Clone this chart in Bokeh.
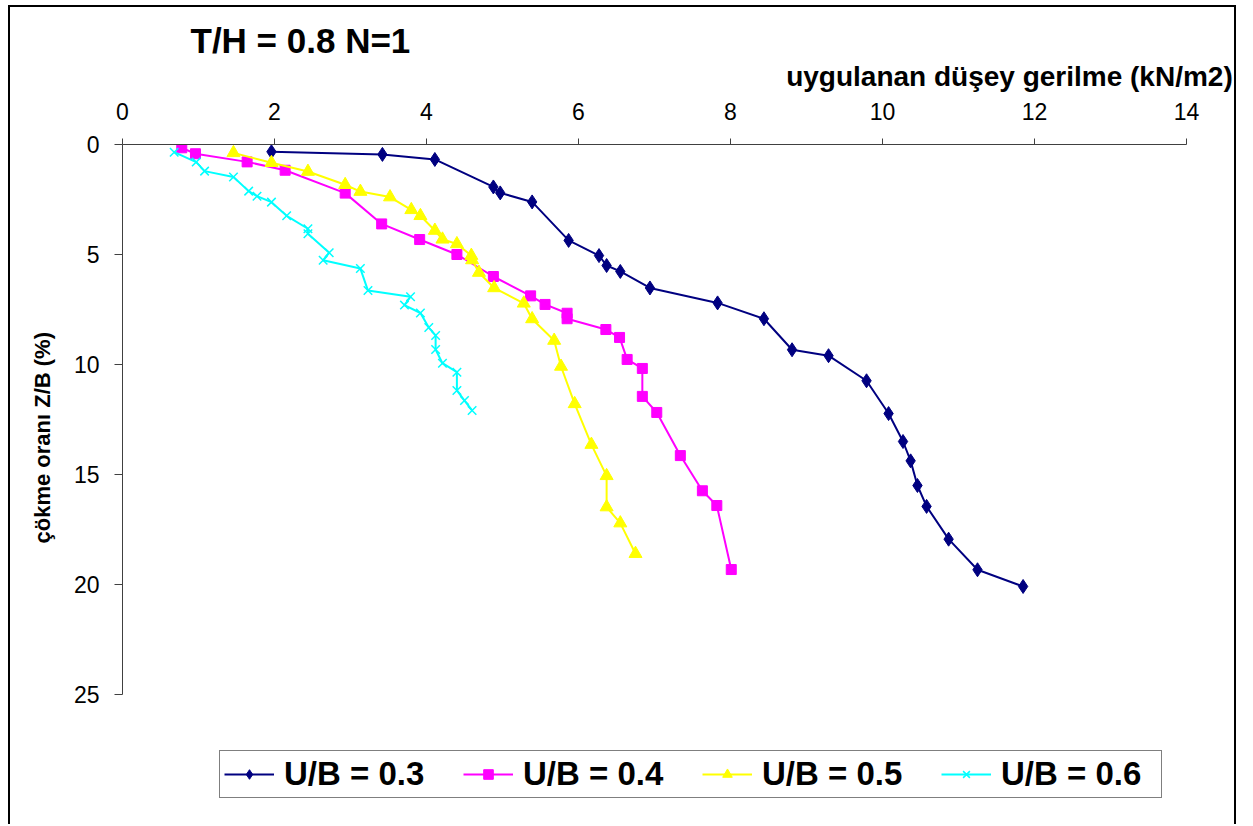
from bokeh.plotting import figure
from bokeh.models import Legend, LegendItem, Range1d, FixedTicker, Title
from bokeh.embed import file_html
from bokeh.resources import INLINE

series_labels = ["U/B = 0.3", "U/B = 0.4", "U/B = 0.5", "U/B = 0.6"]

stress_03 = [1.96, 3.42, 4.11, 4.88, 4.97, 5.39, 5.87, 6.27, 6.37, 6.55, 6.94, 7.83,
             8.44, 8.81, 9.29, 9.79, 10.08, 10.27, 10.37, 10.46, 10.58, 10.87, 11.25, 11.85]
settle_03 = [0.33, 0.45, 0.68, 1.93, 2.20, 2.61, 4.36, 5.05, 5.50, 5.77, 6.52, 7.20,
             7.92, 9.33, 9.60, 10.74, 12.23, 13.50, 14.38, 15.50, 16.45, 17.94, 19.33, 20.09]

stress_04 = [0.78, 0.96, 1.64, 2.14, 2.93, 3.41, 3.91, 4.40, 4.88, 5.37, 5.56, 5.85,
             5.85, 6.36, 6.54, 6.64, 6.84, 6.84, 7.03, 7.34, 7.63, 7.82, 8.01]
settle_04 = [0.15, 0.42, 0.79, 1.17, 2.21, 3.61, 4.32, 5.00, 6.00, 6.88, 7.27, 7.67,
             7.92, 8.41, 8.77, 9.77, 10.18, 11.45, 12.18, 14.14, 15.74, 16.41, 19.32]

stress_05 = [1.46, 1.96, 2.44, 2.93, 3.13, 3.52, 3.80, 3.92, 4.11, 4.21, 4.40, 4.59,
             4.60, 4.69, 4.89, 5.28, 5.39, 5.68, 5.77, 5.95, 6.17, 6.37, 6.37, 6.55, 6.75]
settle_05 = [0.38, 0.83, 1.23, 1.83, 2.14, 2.39, 2.97, 3.24, 3.91, 4.31, 4.52, 5.05,
             5.25, 5.82, 6.52, 7.22, 7.93, 8.91, 10.09, 11.79, 13.64, 15.06, 16.48, 17.21, 18.60]

stress_06 = [0.68, 0.97, 1.08, 1.46, 1.66, 1.77, 1.96, 2.16, 2.44, 2.44, 2.72, 2.64,
             3.13, 3.23, 3.79, 3.71, 3.92, 4.03, 4.12, 4.12, 4.21, 4.40, 4.40, 4.50, 4.60]
settle_06 = [0.35, 0.80, 1.21, 1.48, 2.12, 2.35, 2.62, 3.24, 3.83, 4.06, 4.92, 5.26,
             5.64, 6.64, 6.92, 7.30, 7.66, 8.32, 8.68, 9.32, 9.94, 10.35, 11.18, 11.64, 12.09]

x_ticks = [0, 2, 4, 6, 8, 10, 12, 14]
y_ticks = [0, 5, 10, 15, 20, 25]

title_text = "T/H = 0.8  N=1"
x_title = "uygulanan düşey gerilme  (kN/m2)"
y_title = "çökme oranı Z/B (%)"

FONT = "Liberation Sans"

# host element placed at page (8, 5) with a 2px border on left/top/right.
# The frame runs from page y=144 down to the bottom of the page; the settlement
# axis is bounded to 0..25 so the space below it can hold the legend.
p = figure(width=1228, height=819, output_backend="svg", toolbar_location=None,
           x_range=Range1d(0, 14), y_range=Range1d(31, 0), x_axis_location="above",
           min_border_left=112, min_border_right=52, min_border_top=137,
           min_border_bottom=0)
p.styles = {"margin-left": "8px", "margin-top": "5px",
            "border-left": "2px solid black", "border-top": "2px solid black",
            "border-right": "2px solid black"}
p.grid.visible = False
p.outline_line_color = None
p.background_fill_color = "white"
p.border_fill_color = "white"

for ax, ticks, out in ((p.xaxis[0], x_ticks, 6), (p.yaxis[0], y_ticks, 8)):
    ax.ticker = FixedTicker(ticks=ticks)
    ax.major_tick_out = out
    ax.major_tick_in = 0
    ax.minor_tick_line_color = None
    ax.axis_line_color = "#404040"
    ax.major_tick_line_color = "#404040"
    ax.major_label_text_font = FONT
    ax.major_label_text_font_size = "23px"
    ax.major_label_text_color = "black"
p.xaxis.major_label_standoff = 19
p.yaxis.major_label_standoff = 15
p.yaxis.bounds = (0, 25)

series = [
    (stress_03, settle_03, "#000080", "diamond", 14),
    (stress_04, settle_04, "#FF00FF", "square", 10),
    (stress_05, settle_05, "#FFFF00", "triangle", 13),
    (stress_06, settle_06, "#00FFFF", "x", 12),
]

items = []
for (xs, ys, col, mk, sz), lab in zip(series, series_labels):
    lr = p.line(xs, ys, line_color=col, line_width=2)
    sr = p.scatter(xs, ys, marker=mk, size=sz, fill_color=col, line_color=col,
                   line_width=1.5 if mk == "x" else 1)
    items.append(LegendItem(label=lab, renderers=[lr, sr]))

legend = Legend(items=items, orientation="horizontal", location=(97, 28))
legend.label_text_font = FONT
legend.label_text_font_style = "bold"
legend.label_text_font_size = "33px"
legend.label_text_color = "black"
legend.label_width = 156
legend.glyph_width = 50
legend.glyph_height = 24
legend.label_standoff = 10
legend.spacing = 23
legend.padding = 4
legend.margin = 0
legend.border_line_color = "black"
legend.border_line_width = 1
legend.background_fill_color = "white"
legend.background_fill_alpha = 1
p.add_layout(legend)

# x-axis title, right aligned beyond the frame's right edge
p.add_layout(Title(text=x_title, align="right", offset=-54, standoff=15,
                   text_font=FONT, text_font_style="bold", text_font_size="28px",
                   text_color="black"), "above")

p.title.text = title_text
p.title.align = "left"
p.title.offset = 68
p.title.standoff = -16
p.title.text_font = FONT
p.title.text_font_style = "bold"
p.title.text_font_size = "35px"
p.title.text_color = "black"

# y-axis title; for align="left" on the left side, offset is measured up from frame bottom
p.add_layout(Title(text=y_title, align="left", offset=283, standoff=32,
                   text_font=FONT, text_font_style="bold", text_font_size="22px",
                   text_color="black"), "left")

open("out.html", "w").write(file_html(p, INLINE))
